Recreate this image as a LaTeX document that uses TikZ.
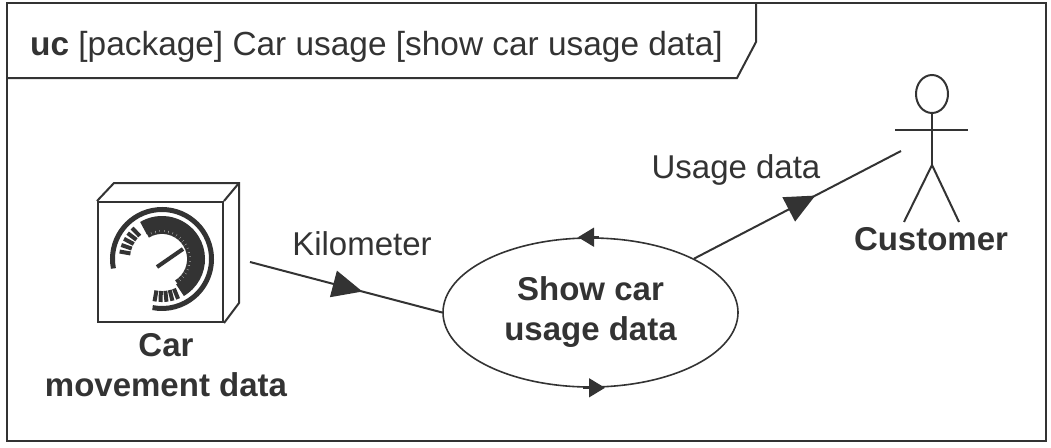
\documentclass[tikz,border=0pt]{standalone}
\usepackage{fontspec}
\setmainfont{Liberation Sans}
\usetikzlibrary{shapes.geometric,arrows.meta,decorations.markings}
\definecolor{ink}{HTML}{333333}
\begin{document}
\begin{tikzpicture}[x=1pt,y=-1pt,
  every node/.style={text=ink, font=\fontsize{33}{40}\selectfont, inner sep=0pt},
  frameline/.style={draw=ink, line width=2pt},
  flow/.style={draw=ink, line width=2pt},
  midarrow/.style={decoration={markings, mark=at position #1 with {\arrow{Triangle[length=30pt,width=27pt]}}}, postaction={decorate}},
  rimarrow/.style={draw=ink, line width=1.5pt, -{Triangle[length=16pt,width=19pt]}},
  usecase/.style={ellipse, draw=ink, line width=1.6pt, minimum width=295pt, minimum height=149pt, align=center, font=\fontsize{33}{40}\selectfont\bfseries},
  stick/.style={draw=ink, line width=2pt}]
\useasboundingbox (0,0) rectangle (1051,447);

% diagram frame and its name tab
\draw[frameline] (7,3) rectangle (1046,441);
\draw[frameline] (7,78) -- (737,78) -- (756,42) -- (756,3);
\node[anchor=base west, font=\fontsize{33.4}{40}\selectfont] (title) at (30,55) {\textbf{uc} [package] Car usage [show car usage data]};

% block with a depth effect
\node[draw=ink, line width=2pt, minimum width=125pt, minimum height=120pt] (cmd) at (160.5,262) {};
\draw[ink, line width=2pt, line join=miter] (cmd.north west) -- ++(17,-18) -- ++(125,0) coordinate (bk) -- ++(0,120) -- (cmd.south east);
\draw[ink, line width=2pt] (cmd.north east) -- (bk);

% speedometer icon
\begin{scope}[shift={(162,259)}, x=1pt, y=1pt, ink]
  \draw[line width=5pt] (191:49.5) arc[start angle=191, end angle=-101, radius=49.5];
  \draw[line width=14pt] (121:36) arc[start angle=121, end angle=-60, radius=36];
  \foreach \a in {117,108,...,-54} \draw[line width=4pt] (\a:25) -- (\a:30);
  \foreach \a in {170,161,...,134} \draw[line width=4pt] (\a:32) -- (\a:43);
  \foreach \a in {-68,-76,...,-100} \draw[line width=4pt] (\a:32) -- (\a:43);
  \draw[line width=4pt] (-5,-8) -- (21,10);
\end{scope}
\node[align=center, font=\fontsize{33}{40}\selectfont\bfseries] (cmdlabel) at (166,365) {Car\\movement data};

% use case
\node[usecase] (uc) at (590.5,312.5) {Show car\\usage data};
\draw[rimarrow] ([xshift=8pt]uc.north) -- ([xshift=-12.5pt]uc.north);
\draw[rimarrow] ([xshift=-8pt]uc.south) -- ([xshift=14.5pt]uc.south);

% actor
\node[ellipse, draw=ink, line width=2pt, minimum width=32pt, minimum height=38pt] (head) at (932,94) {};
\draw[stick] (895,130) -- (968,130);
\draw[stick] (head.south) -- (932,165) coordinate (hip);
\draw[stick] (904,222) -- (hip) -- (959,222);
\node[anchor=base, font=\fontsize{33}{40}\selectfont\bfseries] (customer) at (931,250) {Customer};

% item flows
\coordinate (kmstart) at (250,262);
\coordinate (hand) at (901,151);
\draw[flow, midarrow=0.585] (kmstart) -- (uc.west);
\node[anchor=base] (kmlabel) at (362,255) {Kilometer};
\draw[flow, midarrow=0.586] (uc) -- (hand);
\node[anchor=base] (udlabel) at (736,178) {Usage data};
\end{tikzpicture}
\end{document}
